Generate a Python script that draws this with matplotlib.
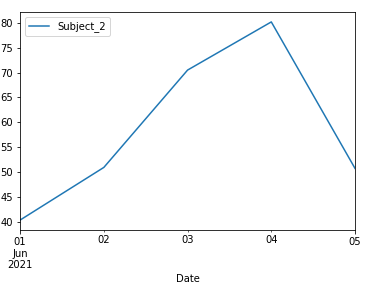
import pandas as pd
import matplotlib
matplotlib.use('Agg')
import matplotlib.pyplot as plt

# Data
dates = ['2021-06-01', '2021-06-02', '2021-06-03', '2021-06-04', '2021-06-05']
subject_2 = [40.3, 50.9, 70.5, 80.2, 50.7]

df = pd.DataFrame({'Subject_2': subject_2}, index=pd.DatetimeIndex(dates, name='Date'))

fig, ax = plt.subplots(figsize=(366 / 72, 286 / 72), dpi=72)
df.plot(ax=ax, color='#1f77b4')
ax.legend(loc='upper left')

fig.subplots_adjust(left=0.055, right=0.97, top=0.958, bottom=0.196)
fig.savefig('out.png', dpi=72)
